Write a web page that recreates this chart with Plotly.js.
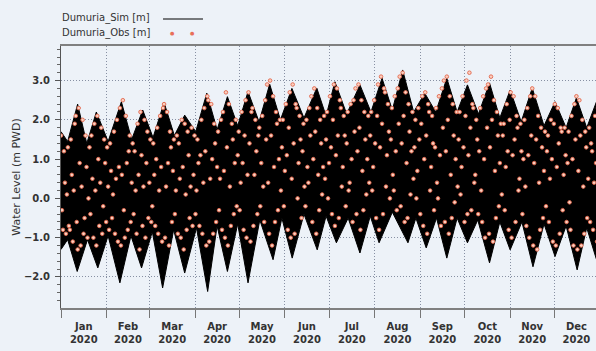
<!DOCTYPE html>
<html><head><meta charset="utf-8">
<script src="https://cdn.plot.ly/plotly-3.0.1.min.js"></script>
<style>html,body{margin:0;padding:0;background:#edf2f8;} #chart{width:596px;height:351px;}</style>
</head><body><div id="chart"></div>
<script>
// ---- data (day of year 2020, water level m PWD) ----
// Simulated series: high-water envelope (springs / neaps)
const simUpperDay = [0,4.5,11.3,17.5,24,32,41,48,55.5,62.5,70,77,84,91.5,99,106,113,120,127,134.5,141.7,149,156.8,165,173.7,180,186,194,203,210.5,218,225,232,239.5,247,254.5,262,269,276,283.5,291,298,305,312.5,320,328,335.5,343,350,357,364,366];
const simUpper    = [1.7,1.45,2.40,1.40,2.20,1.45,2.46,1.50,2.25,1.55,2.44,1.60,2.12,1.70,2.68,1.75,2.59,1.85,2.72,1.95,2.91,2.00,2.80,2.05,2.81,2.10,2.97,2.15,2.89,2.20,3.06,2.25,3.27,2.20,2.68,2.20,3.06,2.20,2.89,2.15,2.94,2.05,2.76,1.95,2.81,1.85,2.46,1.80,2.56,1.80,2.50,2.3];
// Simulated series: low-water envelope
const simLowerDay = [0,4.5,11,18,25,32,40,47.5,54.7,62,69,76.5,84,92,99.6,106,113,120,127,135,144,150,157,165,174,180,187,195,203,210,216,225,235.6,241,248,255,262,269,276,283,291,298,305,313,320.5,328,335.5,343,350.5,357,364,366];
const simLower    = [-1.3,-1.05,-1.86,-1.05,-1.77,-0.95,-2.15,-0.95,-1.77,-0.85,-2.28,-0.8,-1.90,-0.75,-2.37,-0.7,-1.86,-0.65,-2.15,-0.55,-1.56,-0.5,-1.52,-0.4,-1.31,-0.45,-1.13,-0.5,-1.39,-0.45,-1.13,-0.35,-1.13,-0.5,-1.26,-0.5,-1.52,-0.5,-1.13,-0.55,-1.64,-0.6,-1.31,-0.6,-1.74,-0.65,-1.48,-0.7,-1.82,-0.75,-1.6,-1.3];
// Observations, one every 16 hours from 1 Jan 2020
const obsStepHours = 16;
const obsLevel = [
1.6,-0.3,-0.8,1.2,0.4,-0.9,0.1,1.3,-0.7,-0.8,1.5,0.6,-1.1,0.2,1.9,
2.1,-0.6,-1.3,2.3,0.9,-1.2,0.3,2.0,-0.9,-0.5,1.6,0.8,-1.0,0.0,1.3,
-0.4,1.6,0.5,-1.0,1.9,0.2,-1.2,2.1,1.0,-0.7,0.4,1.8,-0.9,-0.2,1.5,
0.9,-0.6,1.3,0.3,-0.8,1.4,0.7,-0.5,0.1,1.7,-0.9,0.5,2.0,-1.1,0.8,
2.3,-1.2,0.6,2.5,-0.3,-1.0,2.1,0.9,-0.8,1.2,1.6,-0.6,0.4,1.4,-0.4,
1.2,0.2,-0.9,1.9,0.6,-1.3,2.2,1.1,-0.7,0.3,2.0,-1.0,0.9,1.7,-0.5,
0.4,1.5,-0.6,-0.2,1.4,0.6,-0.7,1.0,1.8,-0.9,0.2,2.1,0.8,-1.1,2.3,
2.4,-1.0,0.3,2.2,0.9,-1.2,1.7,1.3,-0.6,0.7,1.5,-0.4,0.2,1.6,-0.9,
1.4,0.5,-1.0,2.0,0.8,-1.3,1.9,0.1,-0.8,1.7,1.1,-0.5,0.3,1.8,-0.7,
0.6,1.6,-0.4,0.2,1.5,0.9,-0.7,1.1,2.0,-0.9,0.4,2.3,1.2,-1.2,2.6,
2.5,-1.1,0.5,2.4,1.0,-0.9,1.9,1.4,-0.6,0.8,1.7,-0.3,0.5,2.0,-0.8,
2.2,0.7,-1.0,2.7,1.3,-1.2,2.4,0.3,-0.7,1.9,1.5,-0.4,0.9,2.0,-0.2,
1.1,1.7,-0.3,0.4,2.2,0.9,-0.8,1.6,2.5,-1.0,0.6,2.7,1.4,-1.1,2.2,
2.3,-0.7,0.6,2.0,1.2,-0.4,1.6,1.8,-0.2,0.9,2.1,0.3,-0.6,2.5,1.5,
2.9,0.4,-0.9,3.0,1.6,-1.2,2.6,0.8,-0.6,2.2,1.9,-0.3,1.0,2.0,0.2,
1.3,2.0,-0.2,0.7,2.4,1.1,-0.8,1.8,2.7,-1.0,0.5,2.9,1.4,-0.9,2.4,
2.3,0.0,0.9,2.1,1.5,-0.5,1.2,1.9,0.3,-0.2,2.0,0.8,0.4,2.3,1.6,
2.6,-0.6,1.0,2.8,1.7,-0.9,2.3,0.6,-0.3,2.0,1.4,0.1,0.8,2.1,0.5,
1.5,2.2,0.0,0.9,2.6,1.3,-0.4,2.0,2.9,-0.7,1.1,2.8,1.6,-0.5,2.5,
2.3,0.3,0.8,2.1,1.6,-0.2,1.4,2.2,0.2,0.4,2.4,1.0,-0.6,2.5,1.7,
2.8,-0.4,1.2,2.9,1.8,-0.8,2.5,0.7,-0.3,2.2,1.5,0.1,1.0,2.1,0.4,
1.6,2.2,0.2,0.8,2.5,1.4,-0.5,2.1,2.9,-0.8,1.3,3.1,1.9,-0.4,2.8,
2.7,0.3,1.1,2.4,1.7,0.0,1.5,2.3,0.6,0.2,2.6,1.2,-0.3,2.8,1.9,
3.1,-0.2,1.4,3.2,2.1,-0.6,2.7,0.9,-0.5,2.4,1.7,0.1,1.2,2.2,0.5,
1.3,2.0,0.0,0.7,2.3,1.5,-0.4,1.9,2.6,-0.7,1.0,2.7,1.6,-0.9,2.4,
2.2,0.2,0.8,2.1,1.4,-0.3,1.3,2.3,0.4,0.0,2.6,1.1,-0.7,2.8,1.8,
3.0,-0.6,1.2,3.1,2.0,-0.9,2.6,0.6,-0.5,2.4,1.6,-0.1,1.0,2.2,0.3,
1.5,2.2,0.1,0.8,2.6,1.3,-0.6,2.1,3.0,-0.4,1.1,3.2,1.8,-0.3,2.4,
2.3,0.4,0.6,2.0,1.5,-0.4,1.2,2.3,0.2,-0.6,2.6,1.0,-1.0,2.8,1.8,
2.9,-0.9,1.3,3.1,2.0,-1.1,2.5,0.7,-0.5,2.2,1.6,-0.2,0.9,1.9,0.1,
1.6,1.9,-0.3,0.8,2.4,1.2,-0.8,2.0,2.7,-1.0,1.1,2.6,1.5,-0.6,2.1,
1.8,0.2,0.5,1.9,1.2,-0.4,1.0,2.0,0.3,-0.7,2.3,1.1,-1.0,2.6,1.6,
2.8,-1.2,0.9,2.6,1.5,-1.3,2.1,0.4,-0.8,1.8,1.3,-0.5,0.7,1.7,-0.2,
1.2,1.6,-0.6,0.5,2.0,1.0,-1.1,1.9,2.4,-1.2,0.8,2.3,1.4,-0.9,1.8,
1.7,-0.3,0.6,1.8,1.1,-0.6,0.9,1.7,-0.1,-0.8,2.1,1.0,-1.2,2.4,1.5,
2.6,-1.3,0.7,2.5,1.6,-1.2,2.0,0.3,-0.9,1.7,1.3,-0.5,0.5,1.8,-0.6,
1.4,1.2,-0.8,0.4,2.1,0.9,-1.1,2.3,1.6
];
const yTickVals = [-2,-1,0,1,2,3];
const simName = 'Dumuria_Sim [m]';
const obsName = 'Dumuria_Obs [m]';

// ---- helpers ----
const yearStart = Date.UTC(2020,0,1);
function dayToDate(d){ return new Date(yearStart + d*86400000).toISOString().slice(0,19).replace('T',' '); }
const obsDates = obsLevel.map((v,i)=> dayToDate(i*obsStepHours/24));

const BG = '#edf2f8';
const FONT = 'DejaVu Sans, Verdana, sans-serif';
const GRID = '#8790a3';

const traces = [
  {x: simUpperDay.map(dayToDate), y: simUpper, mode:'lines', name: simName,
   line:{color:'#000', width:1}, hoverinfo:'skip', showlegend:false},
  {x: simLowerDay.map(dayToDate), y: simLower, mode:'lines', name: simName,
   line:{color:'#000', width:1}, fill:'tonexty', fillcolor:'#000', hoverinfo:'skip', showlegend:false},
  {x: obsDates, y: obsLevel, mode:'markers', name: obsName, showlegend:false,
   marker:{size:3.6, color:'#fbd0c0', line:{color:'#e2664c', width:0.9}}}
];

const layout = {
  width:596, height:351,
  margin:{l:61, r:0, t:46, b:43},
  paper_bgcolor: BG, plot_bgcolor: BG,
  showlegend:false,
  font:{family:FONT, size:10, color:'#333'},
  xaxis:{
    type:'date', range:[dayToDate(0), dayToDate(363.3)],
    dtick:'M1', tick0:'2020-01-01', tickformat:'%b<br>%Y', ticklabelmode:'period',
    ticks:'outside', ticklen:8, tickcolor:'#777',
    showgrid:true, gridcolor:GRID, griddash:'1px,2px', gridwidth:1,
    showline:true, linecolor:'#808080', linewidth:2, mirror:true, zeroline:false,
    tickfont:{family:FONT, size:10, color:'#333', weight:'bold'}
  },
  yaxis:{
    range:[-2.79, 3.88], tickvals: yTickVals, tickformat:'.1f',
    ticks:'outside', ticklen:5, tickcolor:'#555', ticklabelstandoff:3,
    minor:{dtick:0.2, tick0:0, ticks:'outside', ticklen:3, tickcolor:'#666', showgrid:false},
    showgrid:true, gridcolor:GRID, griddash:'1px,2px', gridwidth:1,
    showline:true, linecolor:'#555', linewidth:1, zeroline:false,
    tickfont:{family:FONT, size:10, color:'#333', weight:'bold'},
    title:{text:'Water Level (m PWD)', font:{family:FONT, size:11, color:'#333'}, standoff:1}
  },
  shapes:[
    {type:'line', xref:'paper', yref:'paper', x0:0.1907, x1:0.2654, y0:1.103, y1:1.103, line:{color:'#000', width:1}}
  ],
  annotations:[
    {xref:'paper', yref:'paper', x:-0.002, y:1.107, xanchor:'left', yanchor:'middle', showarrow:false,
     text: simName, font:{family:FONT, size:10, color:'#333'}},
    {xref:'paper', yref:'paper', x:-0.002, y:1.050, xanchor:'left', yanchor:'middle', showarrow:false,
     text: obsName, font:{family:FONT, size:10, color:'#333'}},
    {xref:'paper', yref:'paper', x:0.2093, y:1.050, xanchor:'center', yanchor:'middle', showarrow:false,
     text:'●', font:{size:5, color:'#e8705a'}},
    {xref:'paper', yref:'paper', x:0.2467, y:1.050, xanchor:'center', yanchor:'middle', showarrow:false,
     text:'●', font:{size:5, color:'#e8705a'}}
  ]
};

Plotly.newPlot('chart', traces, layout, {staticPlot:true, displayModeBar:false});
</script>
</body></html>
